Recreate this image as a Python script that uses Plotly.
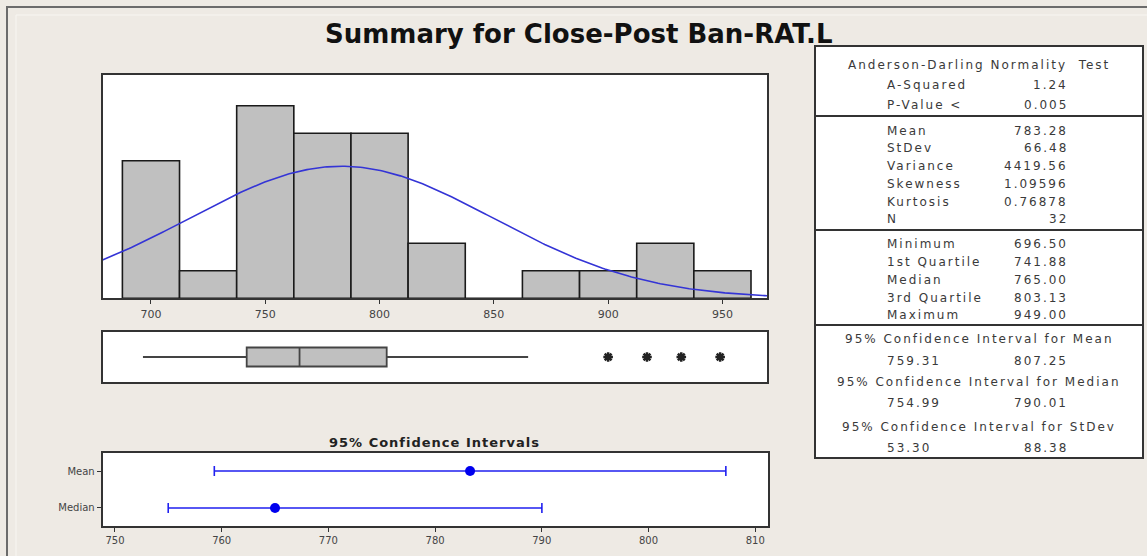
import numpy as np
import plotly.graph_objects as go

W, H = 1147, 556

# ---------------- data ----------------
bin_centers = [700, 725, 750, 775, 800, 825, 850, 875, 900, 925, 950]
bin_counts = [5, 1, 7, 6, 6, 2, 0, 1, 1, 2, 1]
bin_width = 25

mean_val = 783.28
stdev_val = 66.48
n_obs = 32

box_min = 696.5
box_q1 = 741.88
box_median = 765.00
box_q3 = 803.13
box_upper_whisker = 865
outliers = [900, 917, 932, 949]

ci_labels = ["Median", "Mean"]
ci_points = [765.00, 783.28]
ci_lower = [754.99, 759.31]
ci_upper = [790.01, 807.25]

hist_ticks = [700, 750, 800, 850, 900, 950]
ci_ticks = [750, 760, 770, 780, 790, 800, 810]

ad_rows = [("A-Squared", "1.24"), ("P-Value <", "0.005")]
moment_rows = [("Mean", "783.28"), ("StDev", "66.48"), ("Variance", "4419.56"),
               ("Skewness", "1.09596"), ("Kurtosis", "0.76878"), ("N", "32")]
quart_rows = [("Minimum", "696.50"), ("1st Quartile", "741.88"), ("Median", "765.00"),
              ("3rd Quartile", "803.13"), ("Maximum", "949.00")]
ci_table = [("95% Confidence Interval for Mean", "759.31", "807.25"),
            ("95% Confidence Interval for Median", "754.99", "790.01"),
            ("95% Confidence Interval for StDev", "53.30", "88.38")]

# ---------------- helpers ----------------
def px(x):
    return x / W

def py(y):
    return 1 - y / H

BG = "#EEEAE4"
TXT = "#3a3a3a"
FONT = "DejaVu Sans"

fig = go.Figure()

# histogram
fig.add_trace(go.Bar(x=bin_centers, y=bin_counts, width=bin_width,
                     marker=dict(color="#C0C0C0", line=dict(color="#1a1a1a", width=1.6)),
                     xaxis="x", yaxis="y", showlegend=False, hoverinfo="skip"))

x_rng = [678.8, 969.5]
xs = np.linspace(x_rng[0], x_rng[1], 300)
pdf = n_obs * bin_width * np.exp(-0.5 * ((xs - mean_val) / stdev_val) ** 2) / (stdev_val * np.sqrt(2 * np.pi))
fig.add_trace(go.Scatter(x=xs, y=pdf, mode="lines", line=dict(color="#3434D6", width=1.6),
                         xaxis="x", yaxis="y", showlegend=False, hoverinfo="skip"))

# boxplot
fig.add_trace(go.Box(orientation="h", y=[0], q1=[box_q1], median=[box_median], q3=[box_q3],
                     lowerfence=[box_min], upperfence=[box_upper_whisker],
                     fillcolor="#C0C0C0", line=dict(color="#444444", width=1.8),
                     whiskerwidth=0, width=0.76, boxpoints=False,
                     xaxis="x2", yaxis="y2", showlegend=False, hoverinfo="skip"))
fig.add_trace(go.Scatter(x=outliers, y=[0] * len(outliers), mode="markers",
                         marker=dict(symbol="asterisk-open", size=8, color="#222",
                                     line=dict(color="#222", width=2.5)),
                         xaxis="x2", yaxis="y2", showlegend=False, hoverinfo="skip"))

# confidence intervals
ci_y = list(range(len(ci_labels)))
fig.add_trace(go.Scatter(x=ci_points, y=ci_y, mode="markers",
                         marker=dict(symbol="circle", size=10, color="#0000EE"),
                         error_x=dict(type="data", symmetric=False,
                                      array=[u - p for u, p in zip(ci_upper, ci_points)],
                                      arrayminus=[p - l for p, l in zip(ci_points, ci_lower)],
                                      color="#2020F0", thickness=1.6, width=5),
                         xaxis="x3", yaxis="y3", showlegend=False, hoverinfo="skip"))

frame_axis = dict(showline=True, mirror=True, linecolor="#333", linewidth=2,
                  showgrid=False, zeroline=False, automargin=False)

fig.update_layout(
    width=W, height=H,
    margin=dict(l=0, r=0, t=0, b=0),
    paper_bgcolor=BG, plot_bgcolor="white",
    xaxis=dict(domain=[px(102.5), px(767)], range=x_rng, anchor="y",
               tickvals=hist_ticks, ticks="outside", ticklen=4, tickcolor="#333",
               tickfont=dict(family=FONT, size=11, color="#444"), **frame_axis),
    yaxis=dict(domain=[py(298.3), py(75)], range=[0, 8.12], anchor="x",
               showticklabels=False, ticks="", **frame_axis),
    xaxis2=dict(domain=[px(102.5), px(767)], range=x_rng, anchor="y2",
                showticklabels=False, ticks="", **frame_axis),
    yaxis2=dict(domain=[py(382), py(332)], range=[-1, 1], anchor="x2",
                showticklabels=False, ticks="", **frame_axis),
    xaxis3=dict(domain=[px(102.7), px(768)], range=[748.85, 811.2], anchor="y3",
                tickvals=ci_ticks, ticks="outside", ticklen=4, tickcolor="#333",
                tickfont=dict(family=FONT, size=10, color="#444"), **frame_axis),
    yaxis3=dict(domain=[py(526), py(453)], range=[-0.49, 1.49], anchor="x3",
                tickvals=ci_y, ticktext=ci_labels, ticks="outside", ticklen=4, tickcolor="#333",
                tickfont=dict(family=FONT, size=10, color="#444"), **frame_axis),
)

shapes = []
# outer frame
shapes.append(dict(type="rect", xref="paper", yref="paper", x0=px(7), x1=1.05, y0=-0.05, y1=py(7),
                   line=dict(color="#6b6b6b", width=2), fillcolor="rgba(0,0,0,0)", layer="below"))
shapes.append(dict(type="rect", xref="paper", yref="paper", x0=px(16), x1=1.05, y0=-0.05, y1=py(15),
                   line=dict(color="#F8F6F2", width=1), fillcolor="rgba(0,0,0,0)", layer="below"))
# stats table
TL, TR, TT, TB = 815, 1143, 46, 458
shapes.append(dict(type="rect", xref="paper", yref="paper", x0=px(TL), x1=px(TR), y0=py(TB), y1=py(TT),
                   line=dict(color="#333", width=2), fillcolor="white", layer="below"))
for yy in [116, 230, 325]:
    shapes.append(dict(type="line", xref="paper", yref="paper", x0=px(TL), x1=px(TR), y0=py(yy), y1=py(yy),
                       line=dict(color="#333", width=2)))
fig.update_layout(shapes=shapes)

def sp(t, ls=2.0):
    return f'<span style="letter-spacing:{ls}px">{t}</span>'

ann = []
ann.append(dict(text="Summary for Close-Post Ban-RAT.L", x=px(578), y=py(34), xref="paper", yref="paper",
                showarrow=False, xanchor="center", yanchor="middle",
                font=dict(family=FONT, size=26, color="#111", weight="bold")))
ann.append(dict(text=sp("95% Confidence Intervals", 1.0), x=px(434), y=py(442), xref="paper", yref="paper",
                showarrow=False, xanchor="center", yanchor="middle",
                font=dict(family=FONT, size=13, color="#222", weight="bold")))

LAB_X, VAL_X, CEN_X = 885, 1070, 979
tfont = dict(family=FONT, size=12, color=TXT)

def add_row(label, value, y):
    ann.append(dict(text=sp(label), x=px(LAB_X), y=py(y), xref="paper", yref="paper", showarrow=False,
                    xanchor="left", yanchor="middle", font=tfont))
    ann.append(dict(text=sp(value), x=px(VAL_X), y=py(y), xref="paper", yref="paper", showarrow=False,
                    xanchor="right", yanchor="middle", font=tfont))

def add_center(text, y):
    ann.append(dict(text=sp(text), x=px(CEN_X), y=py(y), xref="paper", yref="paper", showarrow=False,
                    xanchor="center", yanchor="middle", font=tfont))

add_center("Anderson-Darling Normality  Test", 65)
for (lab, val), yy in zip(ad_rows, [85, 105]):
    add_row(lab, val, yy)
for (lab, val), yy in zip(moment_rows, [131, 148, 166, 184, 202, 219]):
    add_row(lab, val, yy)
for (lab, val), yy in zip(quart_rows, [244, 262, 280, 298, 315]):
    add_row(lab, val, yy)
for (title, lo, hi), (yt, yv) in zip(ci_table, [(339, 361), (382, 403), (427, 448)]):
    add_center(title, yt)
    ann.append(dict(text=sp(lo), x=px(LAB_X), y=py(yv), xref="paper", yref="paper", showarrow=False,
                    xanchor="left", yanchor="middle", font=tfont))
    ann.append(dict(text=sp(hi), x=px(VAL_X), y=py(yv), xref="paper", yref="paper", showarrow=False,
                    xanchor="right", yanchor="middle", font=tfont))

fig.update_layout(annotations=ann)

fig.write_html("out.html", config={"displayModeBar": False},
               post_script="document.body.style.margin='0px';document.body.style.overflow='hidden';")
